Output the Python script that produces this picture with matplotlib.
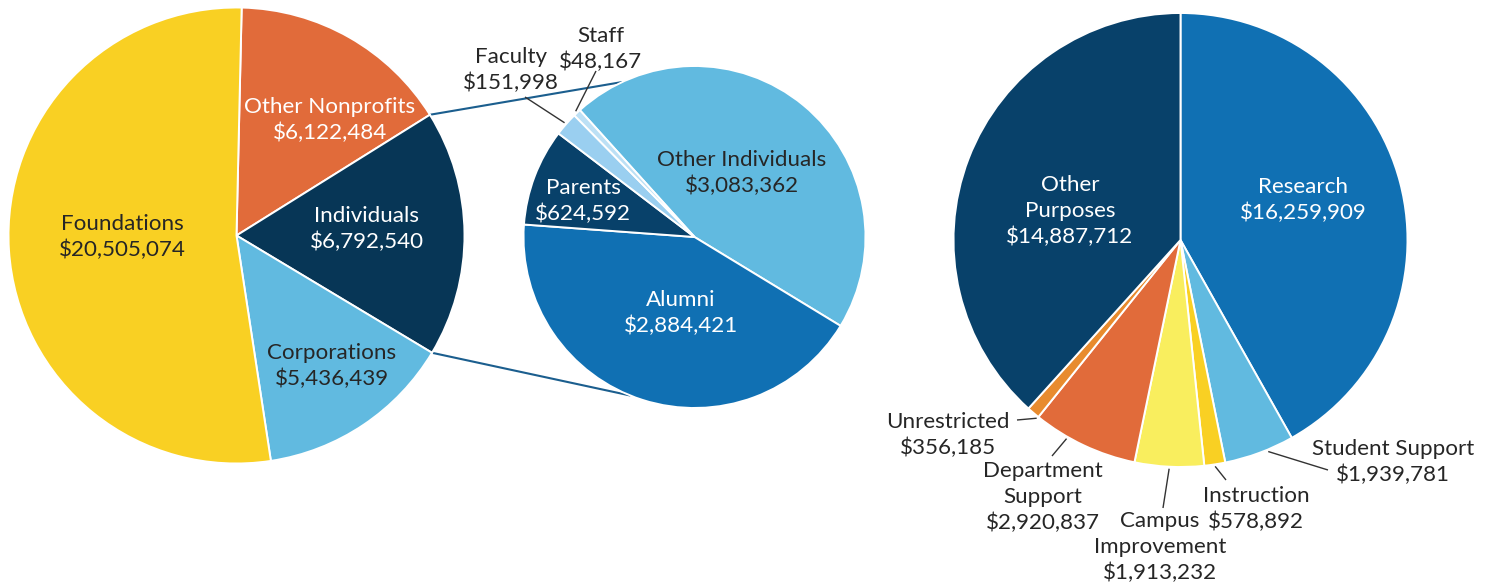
import numpy as np
import matplotlib
matplotlib.use("Agg")
import matplotlib.pyplot as plt

# ---- data -------------------------------------------------------------
source_labels = ["Other Nonprofits", "Individuals", "Corporations", "Foundations"]
source_values = [6122484, 6792540, 5436439, 20505074]

indiv_labels = ["Other Individuals", "Alumni", "Parents", "Faculty", "Staff"]
indiv_values = [3083362, 2884421, 624592, 151998, 48167]

purpose_labels = ["Research", "Student Support", "Instruction", "Campus\nImprovement",
                  "Department\nSupport", "Unrestricted", "Other\nPurposes"]
purpose_values = [16259909, 1939781, 578892, 1913232, 2920837, 356185, 14887712]

# ---- style ------------------------------------------------------------
W, H = 1499, 588
YELLOW = "#F9D023"
ORANGE = "#E16B3A"
NAVY = "#073656"
NAVY2 = "#08416A"
LIGHTBLUE = "#61BAE0"
BLUE = "#1070B3"
PALE1 = "#9ACFF0"
PALE2 = "#BCE0F5"
LEMON = "#F9EE5E"
AMBER = "#E88B2E"
DARK = "#262626"
LINK = "#1B5E8E"

source_colors = [ORANGE, NAVY, LIGHTBLUE, YELLOW]
indiv_colors = [LIGHTBLUE, BLUE, NAVY2, PALE1, PALE2]
purpose_colors = [BLUE, LIGHTBLUE, YELLOW, LEMON, ORANGE, AMBER, NAVY2]

FONT = ["Lato", "DejaVu Sans"]
FS = 16.1
LS = 1.34
TEXT_DROP = 2  # small downward nudge for all labels

fig = plt.figure(figsize=(W / 100, H / 100), dpi=100)
ax = fig.add_axes([0, 0, 1, 1])


def Y(y):
    """Convert a top-down pixel row into the axes' upward y coordinate."""
    return H - y


def money(v):
    return f"${v:,}"


def pie(values, colors, center, radius, start):
    wedges, _ = ax.pie(values, colors=colors, center=center, radius=radius,
                       startangle=start, counterclock=False,
                       wedgeprops=dict(edgecolor="white", linewidth=1.4))
    return wedges


def point(center, radius, ang):
    a = np.deg2rad(ang)
    return center[0] + radius * np.cos(a), center[1] + radius * np.sin(a)


def label(x, y, text, color=DARK):
    ax.text(x, Y(y + TEXT_DROP), text, ha="center", va="center",
            multialignment="center", fontsize=FS, color=color, family=FONT,
            linespacing=LS)


def leader(wedge, center, radius, end, frac=0.5, width=1.0):
    # frac measured clockwise from the wedge's leading edge
    ang = wedge.theta2 - frac * (wedge.theta2 - wedge.theta1)
    sx, sy = point(center, radius + 2, ang)
    ax.plot([sx, end[0]], [sy, Y(end[1])], color="#333333", lw=width,
            solid_capstyle="butt")


# ---- pies -------------------------------------------------------------
c1, r1 = (236.5, Y(235.5)), 228
c2, r2 = (694.5, Y(237)), 171
c3, r3 = (1180.5, Y(240)), 227

w1 = pie(source_values, source_colors, c1, r1, 88.7)
w2 = pie(indiv_values, indiv_colors, c2, r2, 132.1)
w3 = pie(purpose_values, purpose_colors, c3, r3, 90)

# connector lines from the Individuals wedge to the breakdown pie
ind = w1[source_labels.index("Individuals")]
for ang, target in ((ind.theta2, 115.0), (ind.theta1, -112.0)):
    px, py = point(c1, r1, ang)
    tx, ty = point(c2, r2, target)
    ax.plot([px, tx], [py, ty], color=LINK, lw=1.5, zorder=0.5,
            solid_capstyle="butt")

# ---- labels: sources ----------------------------------------------------
label(122, 235, f"Foundations\n{money(source_values[3])}")
label(330, 118, f"Other Nonprofits\n{money(source_values[0])}", "white")
label(367, 227, f"Individuals\n{money(source_values[1])}", "white")
label(332, 364, f"Corporations\n{money(source_values[2])}")

# ---- labels: individuals ------------------------------------------------
label(742, 171, f"Other Individuals\n{money(indiv_values[0])}")
label(681, 311, f"Alumni\n{money(indiv_values[1])}", "white")
label(583, 199, f"Parents\n{money(indiv_values[2])}", "white")
label(511, 68, f"Faculty\n{money(indiv_values[3])}")
label(601, 47, f"Staff\n{money(indiv_values[4])}")
leader(w2[3], c2, r2, (525, 97))
leader(w2[4], c2, r2, (596, 71))

# ---- labels: purposes ---------------------------------------------------
label(1303, 198, f"Research\n{money(purpose_values[0])}", "white")
label(1070, 209, f"Other\nPurposes\n{money(purpose_values[6])}", "white")
label(1393, 460, f"Student Support\n{money(purpose_values[1])}")
label(1256, 507, f"Instruction\n{money(purpose_values[2])}")
label(1160, 545, f"Campus\nImprovement\n{money(purpose_values[3])}")
label(1043, 495, f"Department\nSupport\n{money(purpose_values[4])}")
label(948, 433, f"Unrestricted\n{money(purpose_values[5])}")
leader(w3[1], c3, r3, (1328, 470), frac=0.38)
leader(w3[2], c3, r3, (1226, 480))
leader(w3[3], c3, r3, (1163, 508))
leader(w3[4], c3, r3, (1052, 456), frac=0.67)
leader(w3[5], c3, r3, (1017, 420), frac=0.04)

ax.set_xlim(0, W)
ax.set_ylim(0, H)
ax.set_aspect("equal")
ax.set_axis_off()

fig.savefig("out.png", dpi=100, facecolor="white")
